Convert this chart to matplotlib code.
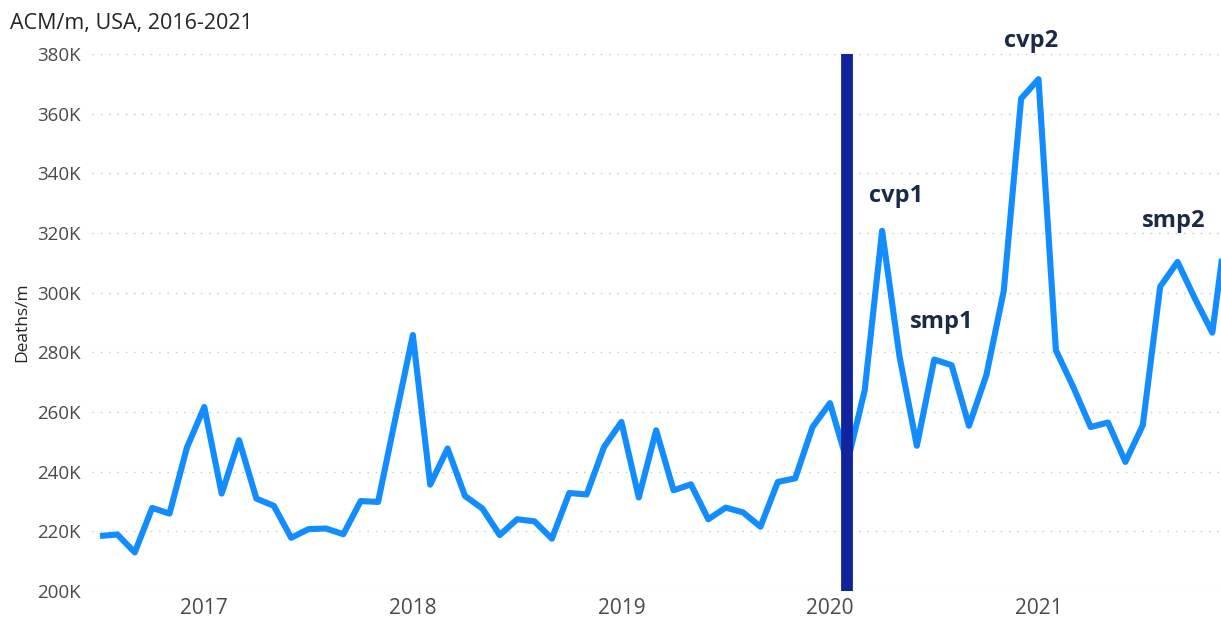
import matplotlib.pyplot as plt

# monthly all-cause deaths, USA, Jul 2016 .. Dec 2021 (thousands)
months = list(range(66))  # 0 = Jul 2016
deaths_k = [
    218.5, 219.0, 213.0, 227.9, 226.0, 248.1,                     # 2016 Jul-Dec
    261.7, 232.7, 250.6, 231.0, 228.6, 217.9,                     # 2017 Jan-Jun
    220.8, 221.0, 219.1, 230.2, 229.9, 258.0,                     # 2017 Jul-Dec
    285.8, 235.7, 247.8, 231.9, 227.7, 218.8,                     # 2018 Jan-Jun
    224.1, 223.4, 217.6, 232.9, 232.4, 248.3,                     # 2018 Jul-Dec
    256.7, 231.4, 253.9, 233.8, 235.8, 224.1,                     # 2019 Jan-Jun
    228.0, 226.4, 221.6, 236.6, 237.8, 255.0,                     # 2019 Jul-Dec
    263.0, 243.1, 267.3, 320.7, 278.7, 248.7,                     # 2020 Jan-Jun
    277.6, 275.7, 255.4, 272.4, 300.6, 365.0,                     # 2020 Jul-Dec
    371.5, 280.7, 268.4, 255.0, 256.5, 243.3,                     # 2021 Jan-Jun
    255.6, 302.0, 310.3, 298.0, 286.6, 331.0,                     # 2021 Jul-Dec
]

year_ticks = [6, 18, 30, 42, 54]
year_labels = ["2017", "2018", "2019", "2020", "2021"]

marker_month = 43  # Feb 2020

annot_labels = ["cvp1", "smp1", "cvp2", "smp2"]
annot_x = [45.8, 48.45, 53.55, 61.75]
annot_y = [332.3, 290.1, 384.2, 324.0]

fig = plt.figure(figsize=(12.21, 6.22), dpi=100)
ax = fig.add_axes([0.0755, 0.0495, 0.9245, 0.864])

ax.plot(months, deaths_k, color="#118DFF", lw=4.4, solid_joinstyle="round",
        solid_capstyle="butt", zorder=3)
ax.axvline(marker_month, color="#12239E", lw=8.5, zorder=4)

for lab, x, y in zip(annot_labels, annot_x, annot_y):
    ax.text(x, y, lab, ha="center", va="center", fontsize=17, fontweight="bold",
            color="#1A2A47", family="Open Sans", clip_on=False, zorder=5)

ax.set_xlim(-0.45, 64.5)
ax.set_ylim(200, 380)
ax.set_yticks(range(200, 381, 20))
ax.set_yticklabels([f"{v}K" for v in range(200, 381, 20)])
ax.set_xticks(year_ticks)
ax.set_xticklabels(year_labels)

ax.grid(axis="y", color="#C8C8C8", linestyle=(0, (1, 5)), lw=1)
ax.set_axisbelow(True)
for s in ax.spines.values():
    s.set_visible(False)
ax.tick_params(axis="both", length=0, colors="#4A4A4A")
ax.tick_params(axis="y", labelsize=13.5, pad=8)
ax.tick_params(axis="x", labelsize=15, pad=5)
for t in ax.get_xticklabels() + ax.get_yticklabels():
    t.set_family("Open Sans")

ax.set_ylabel("Deaths/m", fontsize=12.5, color="#252423", family="Open Sans", labelpad=5)
fig.text(0.008, 0.962, "ACM/m, USA, 2016-2021", fontsize=15.5, color="#252423",
         family="Open Sans", ha="left", va="center")

fig.savefig("out.png", dpi=100)
